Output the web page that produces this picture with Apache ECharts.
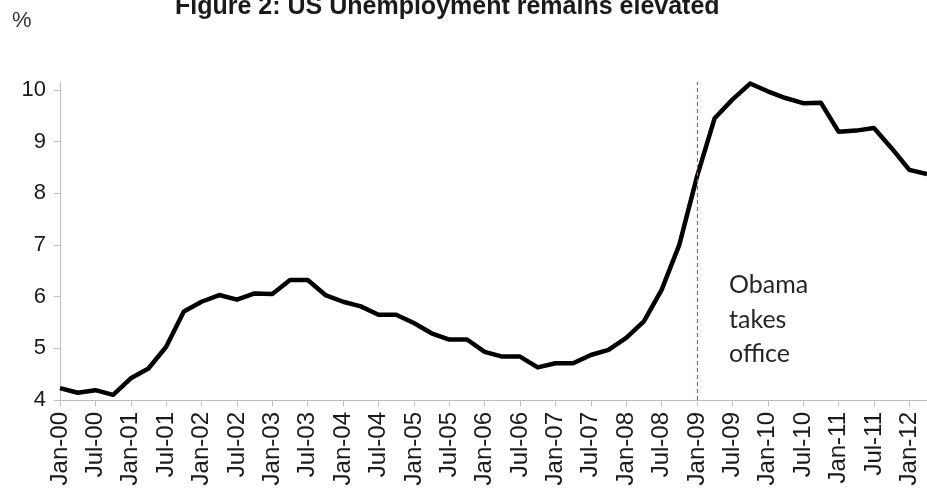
<!DOCTYPE html>
<html>
<head>
<meta charset="utf-8">
<script src="https://cdn.jsdelivr.net/npm/echarts@6/dist/echarts.min.js"></script>
<style>
  html, body { margin: 0; padding: 0; background: #fff; }
  #chart { width: 927px; height: 489px; }
</style>
</head>
<body>
<div id="chart"></div>
<script>
// quarterly observations, Jan-00 .. Apr-12
const years = ["00", "01", "02", "03", "04", "05", "06", "07", "08", "09", "10", "11", "12"];
const quarterMonths = ["Jan", "Apr", "Jul", "Oct"];
const categories = [];
years.forEach(function (y) {
  quarterMonths.forEach(function (m) {
    if (y === "12" && (m === "Jul" || m === "Oct")) return;
    categories.push(m + "-" + y);
  });
});

const unemployment = [
  4.23, 4.14, 4.19, 4.10,
  4.42, 4.61, 5.03, 5.71,
  5.90, 6.03, 5.94, 6.06,
  6.05, 6.32, 6.32, 6.03,
  5.90, 5.81, 5.65, 5.65,
  5.49, 5.29, 5.17, 5.17,
  4.93, 4.84, 4.84, 4.63,
  4.71, 4.71, 4.87, 4.97,
  5.20, 5.52, 6.13, 7.00,
  8.32, 9.45, 9.81, 10.12,
  9.97, 9.84, 9.74, 9.75,
  9.19, 9.21, 9.26, 8.87,
  8.45, 8.37
];

const yTicks = [4, 5, 6, 7, 8, 9, 10];
const eventDate = "Jan-09";

const chart = echarts.init(document.getElementById("chart"));

const option = {
  animation: false,
  title: {
    text: "Figure 2: US Unemployment remains elevated",
    left: 170,
    top: -10,
    textStyle: {
      fontFamily: "Liberation Sans",
      fontSize: 25,
      fontWeight: "bold",
      color: "#1a1a1a",
    },
  },
  grid: {
    left: 60,
    right: -1,
    top: 82,
    bottom: 89,
  },
  xAxis: {
    type: "category",
    data: categories,
    boundaryGap: false,
    axisLine: { lineStyle: { color: "#bfbfbf", width: 1 } },
    axisTick: {
      show: true,
      interval: 1,
      length: 6,
      lineStyle: { color: "#bfbfbf" },
    },
    axisLabel: {
      interval: 1,
      rotate: 90,
      margin: 12,
      fontFamily: "Liberation Sans",
      fontSize: 24,
      color: "#1a1a1a",
    },
  },
  yAxis: {
    type: "value",
    min: 4,
    max: 10.15,
    splitLine: { show: false },
    axisLine: { show: true, lineStyle: { color: "#bfbfbf", width: 1 } },
    axisTick: {
      show: true,
      length: 6,
      customValues: yTicks,
      lineStyle: { color: "#bfbfbf" },
    },
    axisLabel: {
      customValues: yTicks,
      margin: 14,
      fontFamily: "Liberation Sans",
      fontSize: 22,
      color: "#1a1a1a",
    },
  },
  series: [
    {
      type: "line",
      data: unemployment,
      symbol: "none",
      lineStyle: { color: "#000", width: 4.5, join: "round" },
      markLine: {
        silent: true,
        symbol: "none",
        label: { show: false },
        lineStyle: { color: "#d0454a", type: [4, 3], width: 1.2 },
        data: [{ xAxis: eventDate }],
      },
    },
  ],
  graphic: [
    {
      type: "text",
      left: 12,
      top: 10,
      style: {
        text: "%",
        fontFamily: "Liberation Sans",
        fontSize: 22,
        fill: "#333",
      },
    },
    {
      type: "text",
      left: 729,
      top: 268,
      style: {
        text: "Obama\ntakes\noffice",
        fontFamily: "Lato",
        fontSize: 25,
        lineHeight: 34.5,
        fill: "#262626",
      },
    },
  ],
};

chart.setOption(option);
</script>
</body>
</html>
